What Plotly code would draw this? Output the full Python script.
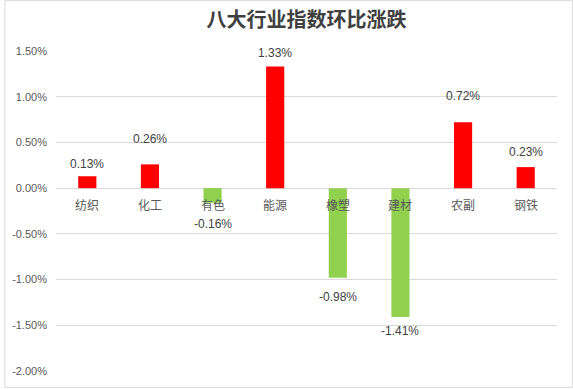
import plotly.graph_objects as go

categories = ["纺织", "化工", "有色", "能源", "橡塑", "建材", "农副", "钢铁"]
values = [0.13, 0.26, -0.16, 1.33, -0.98, -1.41, 0.72, 0.23]
tick_vals = [1.5, 1.0, 0.5, 0.0, -0.5, -1.0, -1.5, -2.0]
tick_text = ["1.50%", "1.00%", "0.50%", "0.00%", "-0.50%", "-1.00%", "-1.50%", "-2.00%"]
title = "八大行业指数环比涨跌"

# style: pixel offset of each data label from its bar end (as placed in the original)
label_shift = [12, 25, -21, 14, -19, -14, 26, 15]

RED = "#FF0000"
GREEN = "#92D050"
colors = [RED if v >= 0 else GREEN for v in values]

W, H = 573, 389
L, R, T, B = 52, 16, 51, 17
pw = W - L - R
ph = H - T - B

fig = go.Figure()
fig.add_trace(go.Bar(
    x=categories, y=values, marker=dict(color=colors, line=dict(width=0)),
    width=0.29, hoverinfo="skip",
))

annotations = []
for c, v, s in zip(categories, values, label_shift):
    annotations.append(dict(
        x=c, y=v, xref="x", yref="y", text=f"{v:.2f}%",
        showarrow=False, yanchor="middle", yshift=s,
        font=dict(family="Liberation Sans, Noto Sans CJK SC", size=12, color="#404040"),
    ))
    annotations.append(dict(
        x=c, y=0, xref="x", yref="y", text=c, showarrow=False,
        yanchor="middle", yshift=-16,
        font=dict(family="Noto Sans CJK SC", size=12, color="#595959"),
    ))

shapes = [dict(
    type="rect", xref="paper", yref="paper",
    x0=(0.5 - L) / pw, x1=(W - 0.5 - L) / pw,
    y0=-(B - 0.5) / ph, y1=1 + (T - 0.5) / ph,
    line=dict(color="#D9D9D9", width=1), fillcolor="rgba(0,0,0,0)", layer="below",
)]

fig.update_layout(
    width=W, height=H,
    margin=dict(l=L, r=R, t=T, b=B, pad=0),
    paper_bgcolor="white", plot_bgcolor="white",
    title=dict(text=f"<b>{title}</b>", x=0.5, xref="paper", xanchor="center",
               y=1 - 20 / H, yanchor="middle",
               font=dict(family="Noto Sans CJK SC", size=20, color="#404040")),
    showlegend=False,
    xaxis=dict(showticklabels=False, showgrid=False, zeroline=False, showline=False,
               ticks="", fixedrange=True),
    yaxis=dict(range=[-2.0, 1.5], tickvals=tick_vals, ticktext=tick_text,
               showgrid=True, gridcolor="#D9D9D9", gridwidth=1,
               zeroline=True, zerolinecolor="#D9D9D9", zerolinewidth=1,
               showline=False, ticks="", ticklabelstandoff=8, fixedrange=True,
               tickfont=dict(family="Liberation Sans, Noto Sans CJK SC", size=11, color="#595959")),
    annotations=annotations,
    shapes=shapes,
)

fig.write_html("out.html", config={"displayModeBar": False},
               post_script="document.body.style.margin='0';")
